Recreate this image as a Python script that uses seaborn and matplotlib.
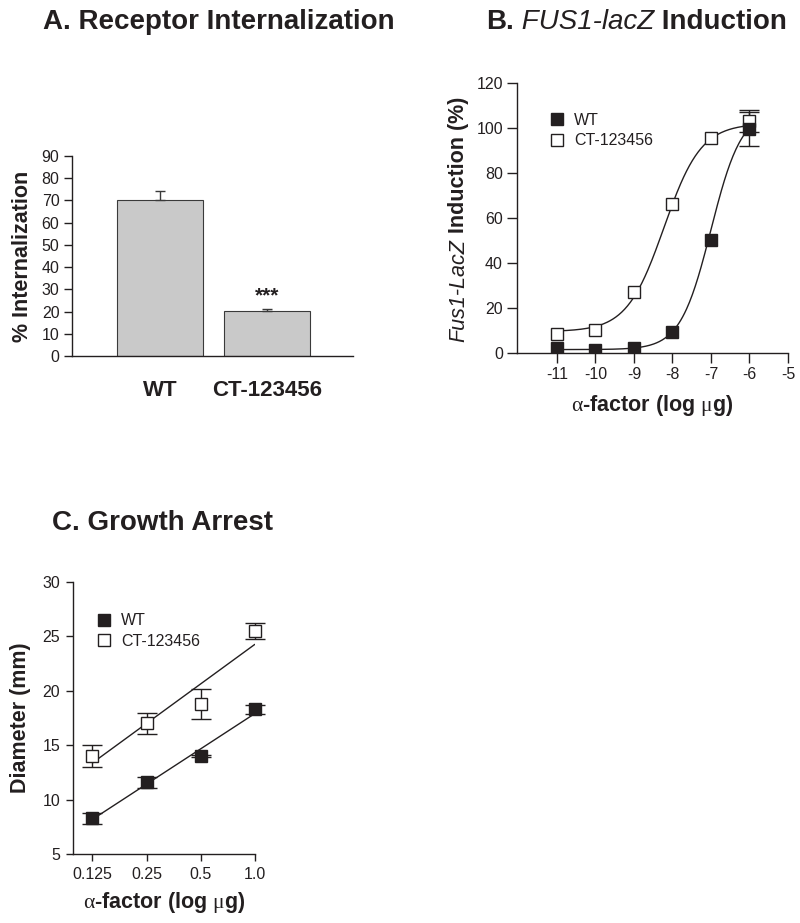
import numpy as np
import pandas as pd
import seaborn as sns
import matplotlib.pyplot as plt
from matplotlib.lines import Line2D

# ---- data ----
# A. receptor internalization
strains = ["WT", "CT-123456"]
internalization = [70.3, 20.2]
internalization_err = [3.8, 0.8]

# B. FUS1-lacZ induction (x = log ug alpha-factor)
dose_log = [-11, -10, -9, -8, -7, -6]
induction_wt = [2.0, 1.5, 2.0, 9.5, 50.0, 99.5]
induction_ct = [8.5, 10.0, 27.0, 66.0, 95.5, 103.0]
induction_wt_err = [0, 0, 0, 0, 0, 7.5]
induction_ct_err = [0, 0, 0, 0, 0, 5.0]
# 4-parameter logistic fits drawn in the figure (bottom, top, logEC50, hill)
fit_wt = (1.5, 108.0, -7.0, 1.09)
fit_ct = (9.5, 102.0, -8.22, 0.9)

# C. growth arrest
dose_ug = [0.125, 0.25, 0.5, 1.0]
dose_labels = ["0.125", "0.25", "0.5", "1.0"]
diameter_wt = [8.3, 11.6, 14.0, 18.3]
diameter_ct = [14.0, 17.0, 18.8, 25.5]
diameter_wt_err = [0.5, 0.5, 0.1, 0.4]
diameter_ct_err = [1.0, 1.0, 1.4, 0.7]

sns.set_theme(style="ticks")
plt.rcParams["font.family"] = ["Liberation Sans", "DejaVu Sans"]
plt.rcParams["mathtext.fontset"] = "custom"
plt.rcParams["mathtext.rm"] = "Liberation Sans"
plt.rcParams["mathtext.sf"] = "Liberation Serif"
plt.rcParams["axes.unicode_minus"] = False
ink = "#231f20"
plt.rcParams["text.color"] = ink
plt.rcParams["axes.labelcolor"] = ink
plt.rcParams["xtick.color"] = ink
plt.rcParams["ytick.color"] = ink
plt.rcParams["axes.edgecolor"] = ink
plt.rcParams["axes.linewidth"] = 1.0

fig = plt.figure(figsize=(8, 9.23), dpi=100)
axA = fig.add_axes([0.09, 0.6143, 0.351, 0.2167])
axB = fig.add_axes([0.646, 0.6176, 0.339, 0.2925])
axC = fig.add_axes([0.091, 0.0747, 0.2275, 0.2947])

alpha_label = r"$\mathsf{\alpha}$-factor (log $\mathsf{\mu}$g)"


def chain_text(x_px, y_px, pieces, size, vertical=False):
    # mixed bold / italic text, laid out piece after piece
    rend = fig.canvas.get_renderer()
    W, H = fig.bbox.width, fig.bbox.height
    for s, style in pieces:
        t = fig.text(x_px / W, 1 - y_px / H, s, fontsize=size,
                     fontweight="bold" if style == "b" else "normal",
                     fontstyle="italic" if style == "i" else "normal",
                     ha="left", va="baseline", rotation=90 if vertical else 0,
                     rotation_mode="anchor")
        bb = t.get_window_extent(rend)
        if vertical:
            y_px -= bb.height
        else:
            x_px += bb.width


# ---------- A ----------
dfA = pd.DataFrame({"strain": strains, "pct": internalization})
sns.barplot(data=dfA, x="strain", y="pct", color="#c9c9c9", edgecolor="#3a3a3a",
            linewidth=0.8, width=0.8, errorbar=None, saturation=1, ax=axA)
axA.errorbar(x=[0, 1], y=internalization,
             yerr=[[0, 0], internalization_err], fmt="none",
             ecolor="#3a3a3a", elinewidth=1, capsize=3.5, capthick=1, zorder=1)
axA.text(1, 27, "***", ha="center", va="center", fontsize=15, fontweight="bold")
axA.set_xlim(-0.82, 1.8)
axA.set_ylim(0, 90)
axA.set_yticks(range(0, 91, 10))
axA.set_xlabel("")
axA.set_ylabel("% Internalization", fontsize=15.5, fontweight="bold", labelpad=6)
axA.tick_params(axis="x", length=0, pad=17, labelsize=16)
axA.tick_params(axis="y", length=6, width=1, labelsize=11.5, pad=3)
for lab in axA.get_xticklabels():
    lab.set_fontweight("bold")
sns.despine(ax=axA)

# ---------- B ----------
xs = np.linspace(-11, -6, 200)


def logistic(x, p):
    bottom, top, ec50, hill = p
    return bottom + (top - bottom) / (1 + 10 ** ((ec50 - x) * hill))


dfB = pd.DataFrame({"x": np.concatenate([xs, xs]),
                    "y": np.concatenate([logistic(xs, fit_wt), logistic(xs, fit_ct)]),
                    "strain": ["WT"] * len(xs) + ["CT"] * len(xs)})
sns.lineplot(data=dfB, x="x", y="y", units="strain", estimator=None,
             color=ink, linewidth=1.0, ax=axB)
err_idx = [i for i, e in enumerate(induction_wt_err) if e > 0]
axB.errorbar([dose_log[i] for i in err_idx], [induction_wt[i] for i in err_idx],
             yerr=[induction_wt_err[i] for i in err_idx], fmt="none",
             ecolor=ink, elinewidth=1, capsize=7, capthick=1, zorder=3)
axB.errorbar([dose_log[i] for i in err_idx], [induction_ct[i] for i in err_idx],
             yerr=[induction_ct_err[i] for i in err_idx], fmt="none",
             ecolor=ink, elinewidth=1, capsize=7, capthick=1, zorder=3)
axB.plot(dose_log, induction_ct, "s", ms=8.5, mfc="white", mec=ink, mew=1, zorder=4)
axB.plot(dose_log, induction_wt, "s", ms=8.5, mfc=ink, mec=ink, mew=1, zorder=5)
axB.set_xlim(-12.04, -5)
axB.set_ylim(0, 120)
axB.set_xticks(range(-11, -4))
axB.set_yticks(range(0, 121, 20))
axB.tick_params(length=7, width=1, labelsize=11.5, pad=3)
axB.set_xlabel(alpha_label, fontsize=15.5, fontweight="bold", labelpad=8)
axB.set_ylabel("")
handles = [Line2D([], [], ls="none", marker="s", ms=8.5, mfc=ink, mec=ink),
           Line2D([], [], ls="none", marker="s", ms=8.5, mfc="white", mec=ink)]
axB.legend(handles, ["WT", "CT-123456"], loc="upper left",
           bbox_to_anchor=(0.12, 0.89), frameon=False, fontsize=11.5,
           handlelength=1.0, handletextpad=0.55, labelspacing=0.35,
           borderpad=0, borderaxespad=0)
sns.despine(ax=axB)

# ---------- C ----------
for y, err, face in [(diameter_wt, diameter_wt_err, ink),
                     (diameter_ct, diameter_ct_err, "white")]:
    dfC = pd.DataFrame({"dose": dose_ug, "diam": y})
    sns.regplot(data=dfC, x="dose", y="diam", logx=True, ci=None, scatter=False,
                line_kws={"color": ink, "lw": 1.0}, ax=axC)
    eb = axC.errorbar(dose_ug, y, yerr=err, fmt="none", ecolor=ink, elinewidth=1,
                      capsize=7, capthick=1, zorder=3)
    for art in eb.lines[1] + eb.lines[2]:
        art.set_clip_on(False)
    axC.plot(dose_ug, y, "s", ms=9, mfc=face, mec=ink, mew=1, zorder=4,
             clip_on=False)
axC.set_xscale("log", base=2)
axC.set_xlim(2 ** -3.364, 1.0)
axC.set_ylim(5, 30)
axC.set_xticks(dose_ug)
axC.set_xticklabels(dose_labels)
axC.minorticks_off()
axC.set_yticks(range(5, 31, 5))
axC.tick_params(length=5, width=1, labelsize=11.5, pad=4)
axC.set_xlabel(alpha_label, fontsize=15.5, fontweight="bold", labelpad=6)
axC.set_ylabel("Diameter (mm)", fontsize=15.5, fontweight="bold", labelpad=8)
axC.legend(handles, ["WT", "CT-123456"], loc="upper left",
           bbox_to_anchor=(0.128, 0.885), frameon=False, fontsize=11.5,
           handlelength=1.0, handletextpad=0.55, labelspacing=0.35,
           borderpad=0, borderaxespad=0)
sns.despine(ax=axC)

# ---------- panel titles and mixed-style labels ----------
fig.text(0.054, 1 - 29 / 923, "A. Receptor Internalization", fontsize=20,
         fontweight="bold", va="baseline", ha="left")
chain_text(486, 29, [("B.", "b"), (" FUS1-lacZ", "i"), (" Induction", "b")], 20)
chain_text(464, 342, [("Fus1-LacZ", "i"), (" Induction (%)", "b")], 15.5,
           vertical=True)
fig.text(0.0646, 1 - 530 / 923, "C. Growth Arrest", fontsize=20,
         fontweight="bold", va="baseline", ha="left")

fig.savefig("out.png", dpi=100)
